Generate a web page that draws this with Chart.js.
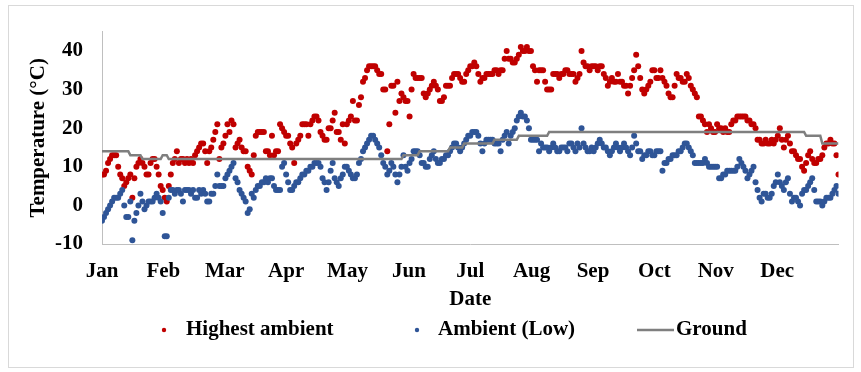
<!DOCTYPE html>
<html>
<head>
<meta charset="utf-8">
<script src="https://cdn.jsdelivr.net/npm/chart.js@4.4.1/dist/chart.umd.min.js"></script>
<style>
  body { margin: 0; background: #fff; }
  #wrap { position: relative; width: 861px; height: 372px; }
</style>
</head>
<body>
<div id="wrap"><canvas id="tempChart" width="861" height="372"></canvas></div>
<script>
// Month tick labels (spread evenly over the year)
const months = ['Jan', 'Feb', 'Mar', 'Apr', 'May', 'Jun', 'Jul', 'Aug', 'Sep', 'Oct', 'Nov', 'Dec'];
const yTicks = [-10, 0, 10, 20, 30, 40];

// Daily highest ambient temperature (°C), Jan 1 .. Dec 31
const highC = [
  // Jan
  8, 8, 9, 11, 12, 13, 13, 13, 10, 8, 7, 5, 6, 7, 8, 2, 7, 10, 11, 12, 11, 10, 8, 8, 11, 12, 12, 10, 8, 5, 4,
  // Feb
  2, 1, 5, 8, 11, 12, 14, 11, 12, 12, 11, 12, 11, 12, 11, 13, 14, 15, 16, 16, 14, 11, 14, 15, 17, 19, 21, 12,
  // Mar
  15, 16, 18, 21, 19, 22, 21, 15, 16, 17, 15, 14, 14, 10, 9, 8, 13, 18, 19, 19, 19, 19, 14, 14, 13, 18, 13, 14, 14, 21, 20,
  // Apr
  19, 18, 18, 16, 15, 11, 16, 17, 18, 21, 21, 21, 18, 21, 22, 23, 23, 22, 19, 18, 17, 17, 20, 20, 22, 24, 19, 19, 17, 21,
  // May
  16, 21, 22, 23, 27, 22, 22, 26, 28, 32, 33, 35, 36, 36, 36, 36, 35, 34, 34, 30, 30, 14, 21, 31, 31, 24, 32, 27, 29, 28, 27,
  // Jun
  27, 23, 30, 34, 33, 33, 33, 33, 29, 28, 29, 30, 31, 32, 31, 30, 27, 27, 28, 31, 31, 31, 33, 34, 34, 34, 33, 32, 32, 34,
  // Jul
  35, 36, 36, 37, 36, 34, 32, 33, 33, 34, 34, 34, 34, 35, 35, 34, 35, 35, 38, 40, 38, 38, 37, 37, 38, 39, 41, 40, 40, 41, 40,
  // Aug
  40, 36, 35, 32, 35, 35, 35, 32, 30, 30, 30, 34, 34, 34, 33, 34, 34, 35, 35, 34, 34, 34, 32, 33, 34, 40, 37, 36, 36, 35, 36,
  // Sep
  36, 36, 35, 36, 36, 34, 33, 31, 32, 33, 32, 32, 34, 32, 32, 31, 31, 29, 31, 33, 35, 39, 36, 33, 30, 29, 30, 31, 32, 35,
  // Oct
  35, 33, 33, 35, 33, 32, 31, 29, 28, 28, 31, 34, 33, 33, 32, 32, 34, 33, 31, 30, 29, 28, 23, 23, 22, 21, 19, 21, 20, 19, 19,
  // Nov
  21, 20, 20, 19, 20, 19, 19, 21, 22, 22, 23, 23, 23, 23, 23, 22, 22, 21, 21, 20, 17, 17, 16, 16, 17, 16, 16, 17, 16, 17,
  // Dec
  18, 20, 17, 15, 17, 18, 16, 14, 14, 13, 12, 12, 10, 9, 11, 13, 14, 12, 11, 11, 12, 12, 13, 15, 16, 16, 17, 16, 16, 13, 8
];

// Daily low ambient temperature (°C)
const lowC = [
  // Jan
  -4, -3, -2, -1, 0, 1, 2, 2, 2, 3, 4, 0, -3, -3, 1, -9, -4, -2, 0, 3, 1, -1, 0, 1, 1, 1, 2, 3, 2, 1, -2,
  // Feb
  -8, -8, 2, 4, 4, 3, 4, 4, 3, 1, 4, 4, 4, 3, 4, 2, 2, 4, 3, 4, 3, 1, 1, 3, 3, 5, 8, 5,
  // Mar
  5, 5, 7, 8, 9, 10, 11, 7, 6, 4, 3, 2, 1, -2, -1, 3, 2, 4, 5, 5, 6, 6, 7, 6, 7, 7, 5, 4, 4, 4, 10,
  // Apr
  11, 8, 6, 4, 4, 5, 6, 6, 7, 8, 8, 9, 9, 10, 10, 11, 11, 11, 10, 7, 6, 4, 6, 9, 11, 7, 6, 5, 7, 8,
  // May
  10, 10, 9, 8, 7, 7, 8, 11, 12, 14, 15, 16, 17, 18, 18, 17, 16, 15, 13, 11, 10, 8, 9, 11, 10, 8, 6, 8, 10, 13, 10,
  // Jun
  9, 11, 12, 14, 14, 14, 13, 11, 11, 10, 10, 12, 13, 14, 12, 11, 11, 12, 12, 13, 13, 14, 15, 16, 16, 15, 14, 15, 16, 17,
  // Jul
  18, 18, 19, 19, 19, 18, 16, 14, 16, 17, 17, 17, 17, 16, 16, 16, 14, 17, 18, 19, 16, 18, 19, 20, 22, 23, 24, 23, 23, 22, 20,
  // Aug
  17, 17, 17, 17, 14, 16, 15, 15, 15, 14, 15, 16, 15, 14, 14, 15, 15, 15, 14, 16, 16, 15, 14, 16, 15, 20, 16, 15, 14, 14, 15,
  // Sep
  14, 15, 16, 17, 16, 15, 15, 14, 13, 14, 15, 16, 15, 14, 15, 16, 15, 14, 13, 15, 18, 16, 14, 14, 12, 13, 13, 14, 14, 13,
  // Oct
  13, 14, 14, 14, 9, 11, 11, 12, 12, 13, 13, 13, 14, 14, 15, 16, 16, 15, 14, 13, 11, 11, 11, 11, 11, 12, 11, 10, 10, 10, 10,
  // Nov
  10, 7, 7, 8, 8, 9, 9, 9, 9, 9, 10, 12, 11, 10, 9, 7, 8, 9, 10, 6, 4, 2, 1, 3, 3, 2, 2, 3, 5, 6,
  // Dec
  8, 6, 5, 4, 6, 7, 3, 1, 2, 2, 1, 0, 3, 4, 4, 5, 6, 7, 4, 1, 1, 1, 0, 1, 2, 2, 2, 3, 4, 5, 3
];

// Daily ground temperature (°C)
const groundC = [
  // Jan
  14, 14, 14, 14, 14, 14, 14, 14, 14, 14, 14, 14, 14, 14, 13, 13, 13, 13, 13, 13, 12, 12, 12, 12, 12, 12, 12, 12, 12, 12, 13,
  // Feb
  13, 13, 12, 12, 12, 12, 12, 12, 12, 12, 12, 12, 12, 12, 12, 12, 12, 12, 12, 12, 12, 12, 12, 12, 12, 12, 12, 12,
  // Mar
  12, 12, 12, 12, 12, 12, 12, 12, 12, 12, 12, 12, 12, 12, 12, 12, 12, 12, 12, 12, 12, 12, 12, 12, 12, 12, 12, 12, 12, 12, 12,
  // Apr
  12, 12, 12, 12, 12, 12, 12, 12, 12, 12, 12, 12, 12, 12, 12, 12, 12, 12, 12, 12, 12, 12, 12, 12, 12, 12, 12, 12, 12, 12,
  // May
  12, 12, 12, 12, 12, 12, 12, 12, 12, 12, 12, 12, 12, 12, 12, 12, 12, 12, 12, 12, 12, 12, 12, 12, 12, 12, 12, 12, 12, 13, 13,
  // Jun
  13, 13, 13, 13, 13, 13, 14, 14, 14, 14, 14, 14, 14, 14, 14, 14, 14, 14, 14, 14, 14, 15, 15, 15, 15, 15, 15, 15, 16, 16,
  // Jul
  16, 16, 16, 16, 16, 16, 16, 16, 16, 16, 16, 16, 16, 17, 17, 17, 17, 17, 17, 17, 17, 17, 17, 17, 17, 18, 18, 18, 18, 18, 18,
  // Aug
  18, 18, 18, 18, 18, 18, 18, 18, 18, 19, 19, 19, 19, 19, 19, 19, 19, 19, 19, 19, 19, 19, 19, 19, 19, 19, 19, 19, 19, 19, 19,
  // Sep
  19, 19, 19, 19, 19, 19, 19, 19, 19, 19, 19, 19, 19, 19, 19, 19, 19, 19, 19, 19, 19, 19, 19, 19, 19, 19, 19, 19, 19, 19,
  // Oct
  19, 19, 19, 19, 19, 19, 19, 19, 19, 19, 19, 19, 19, 19, 19, 19, 19, 19, 19, 19, 19, 19, 19, 19, 19, 19, 19, 19, 19, 19, 19,
  // Nov
  19, 19, 19, 19, 19, 19, 19, 19, 19, 19, 19, 19, 19, 19, 19, 19, 19, 19, 19, 19, 19, 19, 19, 19, 19, 19, 19, 19, 19, 19,
  // Dec
  19, 19, 19, 19, 19, 19, 19, 19, 19, 19, 19, 19, 19, 19, 18, 18, 18, 18, 18, 18, 18, 18, 16, 16, 16, 16, 16, 16, 16, 16, 16
];

const seriesNames = ['Highest ambient', 'Ambient (Low)', 'Ground'];
const RED = '#c00000';
const BLUE = '#2f5597';
const GRAY = '#7f7f7f';
const FONT = { family: '"Liberation Serif", "Times New Roman", serif', size: 21, weight: 'bold' };

const toPoints = arr => arr.map((v, i) => ({ x: i, y: v }));
const lastDay = highC.length - 1;

// outer frame + legend drawn on the canvas
const framePlugin = {
  id: 'frame',
  beforeDraw(chart) {
    const ctx = chart.ctx;
    ctx.save();
    ctx.fillStyle = '#fff';
    ctx.fillRect(0, 0, chart.width, chart.height);
    ctx.strokeStyle = '#d9d9d9';
    ctx.lineWidth = 1;
    ctx.strokeRect(8.5, 5.5, 845, 362);
    ctx.restore();
  },
  afterDraw(chart) {
    const ctx = chart.ctx;
    const y = 330;
    ctx.save();
    ctx.font = 'bold 21px "Liberation Serif", "Times New Roman", serif';
    ctx.textBaseline = 'middle';
    ctx.textAlign = 'left';

    ctx.fillStyle = RED;
    ctx.beginPath(); ctx.arc(164, y, 2.2, 0, Math.PI * 2); ctx.fill();
    ctx.fillStyle = '#000';
    ctx.fillText(seriesNames[0], 186, y);

    ctx.fillStyle = BLUE;
    ctx.beginPath(); ctx.arc(417, y, 2.2, 0, Math.PI * 2); ctx.fill();
    ctx.fillStyle = '#000';
    ctx.fillText(seriesNames[1], 438, y);

    ctx.strokeStyle = GRAY;
    ctx.lineWidth = 2.5;
    ctx.beginPath(); ctx.moveTo(637, y); ctx.lineTo(674, y); ctx.stroke();
    ctx.fillText(seriesNames[2], 676, y);
    ctx.restore();
  }
};

new Chart(document.getElementById('tempChart'), {
  type: 'scatter',
  data: {
    datasets: [
      {
        label: seriesNames[2],
        data: toPoints(groundC),
        showLine: true,
        borderColor: GRAY,
        borderWidth: 2.5,
        pointRadius: 0,
        order: 0
      },
      {
        label: seriesNames[1],
        data: toPoints(lowC),
        backgroundColor: BLUE,
        borderWidth: 0,
        pointRadius: 3,
        order: 1
      },
      {
        label: seriesNames[0],
        data: toPoints(highC),
        backgroundColor: RED,
        borderWidth: 0,
        pointRadius: 3,
        order: 2
      }
    ]
  },
  options: {
    responsive: false,
    animation: false,
    layout: { padding: { left: 0, right: 22.5, top: 25.5, bottom: 60 } },
    plugins: {
      legend: { display: false },
      tooltip: { enabled: false }
    },
    scales: {
      x: {
        type: 'linear',
        min: 0,
        max: lastDay,
        grid: { display: false, drawTicks: false },
        border: { display: true, color: '#bfbfbf', width: 1 },
        afterBuildTicks(scale) {
          scale.ticks = months.map((m, k) => ({ value: k * lastDay / months.length }));
        },
        afterFit(scale) { scale.height = 68; },
        ticks: {
          color: '#000',
          font: FONT,
          padding: 15,
          maxRotation: 0,
          autoSkip: false,
          callback: (v, i) => months[i]
        },
        title: {
          display: true,
          text: 'Date',
          color: '#000',
          font: FONT,
          padding: { top: 0, bottom: 0 }
        }
      },
      y: {
        min: -10,
        max: 45,
        grid: { display: false, drawTicks: false },
        border: { display: true, color: '#bfbfbf', width: 1 },
        afterBuildTicks(scale) {
          scale.ticks = yTicks.map(v => ({ value: v }));
        },
        afterFit(scale) { scale.width = 102; },
        ticks: {
          color: '#000',
          font: FONT,
          padding: 19
        },
        title: {
          display: true,
          text: 'Temperature (°C)',
          color: '#000',
          font: FONT,
          padding: { top: 26, bottom: 0 }
        }
      }
    }
  },
  plugins: [framePlugin]
});
</script>
</body>
</html>
